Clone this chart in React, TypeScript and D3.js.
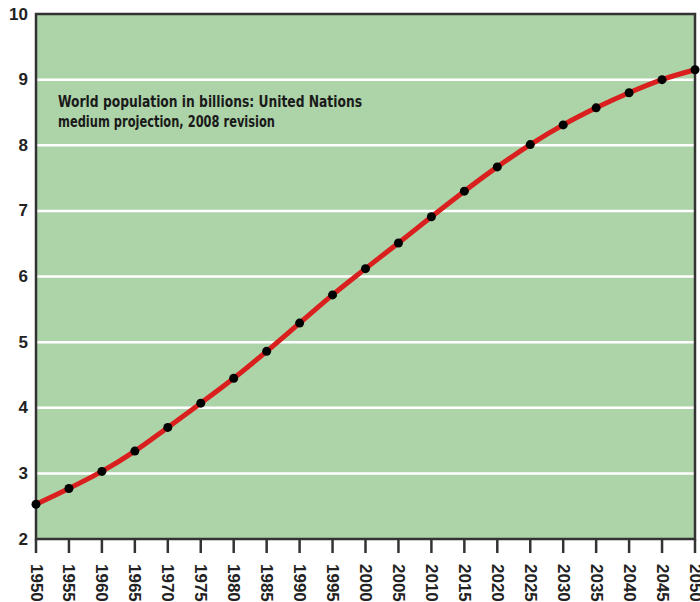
import React from "react";
import * as d3 from "d3";

const years = [1950,1955,1960,1965,1970,1975,1980,1985,1990,1995,2000,2005,2010,2015,2020,2025,2030,2035,2040,2045,2050];
const population = [2.53,2.77,3.03,3.34,3.70,4.07,4.45,4.86,5.29,5.72,6.12,6.51,6.91,7.30,7.67,8.01,8.31,8.57,8.80,9.00,9.15];
const yTicks = [2,3,4,5,6,7,8,9,10];
const titleLines = ["World population in billions: United Nations", "medium projection, 2008 revision"];
const titleWidths = [304, 217];

const W = 700, H = 602;
const left = 36, right = 695, top = 14, bottom = 539;

export default function App() {
  const x = d3.scaleLinear().domain([1950, 2050]).range([left, right]);
  const y = d3.scaleLinear().domain([2, 10]).range([bottom, top]);
  const line = d3.line<number>()
    .x((_, i) => x(years[i]))
    .y((d) => y(d))
    .curve(d3.curveMonotoneX);
  const axisFont = "'Liberation Sans', Arial, sans-serif";
  const narrow = "'Liberation Sans Narrow', 'DejaVu Sans Condensed', sans-serif";
  return (
    <svg width={W} height={H} style={{ position: "absolute", left: 0, top: 0, background: "#fff" }}>
      <rect x={left} y={top} width={right - left} height={bottom - top} fill="#add3a8" />
      {yTicks.filter((t) => t > 2 && t < 10).map((t) => (
        <line key={t} x1={left} x2={right} y1={y(t)} y2={y(t)} stroke="#ffffff" strokeWidth={2.5} />
      ))}
      <rect x={left} y={top} width={right - left} height={bottom - top} fill="none" stroke="#333" strokeWidth={2.5} />
      {years.map((yr) => (
        <line key={yr} x1={x(yr)} x2={x(yr)} y1={bottom} y2={bottom + 14} stroke="#333" strokeWidth={2.5} />
      ))}
      {yTicks.map((t) => (
        <text key={t} x={28} y={y(t)} textAnchor="end" dominantBaseline="central" fontFamily={axisFont} fontWeight="bold" fontSize={17} fill="#222">{t}</text>
      ))}
      {years.map((yr) => (
        <text key={yr} transform={`translate(${x(yr)},${bottom + 25}) rotate(90)`} textAnchor="start" dominantBaseline="central" fontFamily={axisFont} fontWeight="bold" fontSize={17} fill="#222">{yr}</text>
      ))}
      {titleLines.map((s, i) => (
        <text key={i} x={58} y={107 + i * 20} fontFamily={narrow} fontWeight="bold" fontSize={16.5} fill="#1a1a1a" textLength={titleWidths[i]} lengthAdjust="spacingAndGlyphs">{s}</text>
      ))}
      <path d={line(population) || ""} fill="none" stroke="#d9201e" strokeWidth={5} strokeLinecap="round" />
      {population.map((v, i) => (
        <circle key={i} cx={x(years[i])} cy={y(v)} r={4.5} fill="#000" />
      ))}
    </svg>
  );
}
